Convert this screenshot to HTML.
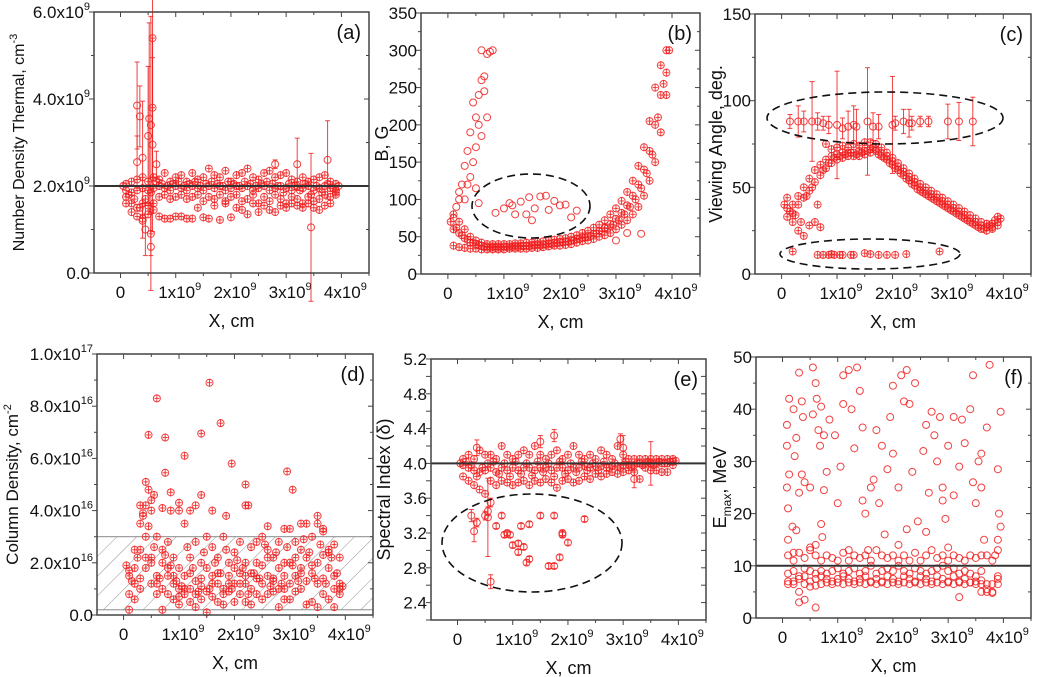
<!DOCTYPE html>
<html><head><meta charset="utf-8"><style>
html,body{margin:0;padding:0;background:#fff}
svg{display:block;font-family:"Liberation Sans",Arial,sans-serif}
</style></head><body>
<svg id="fig" width="1038" height="677" viewBox="0 0 1038 677" xmlns="http://www.w3.org/2000/svg">
<defs>
<pattern id="hatch" patternUnits="userSpaceOnUse" width="14" height="14" patternTransform="rotate(45)">
<line x1="0" y1="0" x2="0" y2="14" stroke="#777" stroke-width="0.8"/>
</pattern>
</defs>
</svg>
<script>
const xs=[0.1,0.2,0.3,0.4,0.5,0.6,0.7,0.8,0.9,1.0,1.1,1.2,1.3,1.4,1.5,1.6,1.7,1.8,1.9,2.0,2.1,2.2,2.3,2.4,2.5,2.6,2.7,2.8,2.9,3.0,3.1,3.2,3.3,3.4,3.5,3.6,3.7,3.8,3.9];
const xs2=[0.05,0.15,0.25,0.35,0.45,0.55,0.65,0.75,0.85,0.95,1.05,1.15,1.25,1.35,1.45,1.55,1.65,1.75,1.85,1.95,2.05,2.15,2.25,2.35,2.45,2.55,2.65,2.75,2.85,2.95,3.05,3.15,3.25,3.35,3.45,3.55,3.65,3.75,3.85,3.95];
// (a) number density, 1e9 cm^-3
const aS1=[2.05,2.1,2.15,2.2,2.1,2.2,2.15,2.3,2.1,2.2,2.25,2.1,2.3,2.15,2.2,2.4,2.25,2.2,2.35,2.1,2.25,2.3,2.4,2.2,2.15,2.3,2.35,2.2,2.25,2.3,2.15,2.1,2.2,2.1,2.15,2.2,2.25,2.1,2.05];
const aS2=[1.9,1.85,1.9,1.95,1.9,1.95,2.0,1.95,1.9,2.0,1.95,1.9,2.0,1.95,1.9,2.0,1.95,2.0,1.9,1.95,2.0,1.95,2.0,1.9,1.95,2.0,1.9,1.95,2.0,1.95,1.9,2.0,1.95,2.0,1.9,1.95,2.0,1.95,1.9];
const aS3=[1.75,1.6,1.5,1.6,1.55,1.6,1.75,1.8,1.7,1.75,1.8,1.7,1.75,1.8,1.65,1.75,1.7,1.8,1.65,1.75,1.8,1.65,1.7,1.8,1.6,1.75,1.65,1.8,1.7,1.6,1.75,1.7,1.6,1.75,1.65,1.7,1.8,1.75,1.85];
const aS4=[1.6,1.4,1.3,1.25,1.35,1.45,1.3,1.25,1.25,1.3,1.3,1.25,1.25,1.5,1.28,1.25,1.55,1.22,1.6,1.28,1.5,1.45,1.35,1.6,1.4,1.55,1.45,1.4,1.55,1.5,1.6,1.55,1.5,1.6,1.5,1.45,1.55,1.6,1.8];
const aS5=[2.0,1.8,1.7,1.5,1.7,1.85,2.1,2.05,2.0,2.05,2.1,2.0,2.05,2.1,2.0,2.05,2.1,2.05,2.0,2.1,2.05,2.0,2.1,2.05,2.0,2.05,2.1,2.05,2.0,1.85,2.05,2.0,1.9,2.05,1.8,2.0,1.85,2.05,1.95,2.0];
const aOx=[0.3,0.35,0.4,0.5,0.52,0.55,0.58,0.58,0.58,0.3,0.65,3.45,3.75,3.2,2.8,0.55,0.55,0.45,0.4];
const aOy=[3.85,3.6,2.65,3.15,3.55,3.4,5.4,3.8,2.95,2.55,2.5,1.05,2.6,2.5,2.5,0.6,0.9,1.0,1.2];
const aOe=[1.0,0.7,1.3,1.6,2.2,2.5,1.6,1.6,2.0,0.6,0.3,1.7,0.9,0.6,0.1,1.0,0.5,0.6,0.4];
// (b) B, G
const bS1=[38,36,35,34,34,33,33,33,33,33,34,34,34,34,35,35,36,37,38,38,39,40,42,44,45,47,50,52,55,60,66,72,80,90,105,125,150,190,240];
const bS2=[80,70,60,50,45,42,40,40,40,40,40,41,41,42,42,43,44,45,46,47,48,50,52,55,58,62,66,72,80,88,98,110,125,145,170,205,250,280,300];
const bS3=[60,55,48,42,40,38,37,37,37,37,37,38,38,38,39,40,40,41,42,43,44,45,47,49,51,54,58,62,67,74,82,92,105,120,140,165,200,240,270];
const bS4=[70,62,52,46,42,39,36,35,35,35,36,36,36,37,37,38,38,39,40,41,42,43,45,47,49,51,54,57,61,66,72,80,90,100,115,135,160,210,255,300];
const bOx=[0.2,0.25,0.3,0.35,0.4,0.45,0.5,0.5,0.55,0.6,0.65,0.6,0.7,0.75,0.8,0.4,0.35,0.5,0.55,0.3,0.7,0.65,0.85,1.0,1.15,1.2,1.3,1.45,1.5,1.55,1.65,1.75,1.8,1.9,2.0,2.1,2.3,1.1,1.4,2.2,3.0,3.2,3.45,2.8,0.1,0.15,0.2,0.45,0.55,0.6];
const bOy=[110,120,145,165,190,230,170,210,240,260,265,300,295,298,300,130,120,115,95,100,210,245,82,88,92,80,97,103,72,88,104,105,86,98,92,93,85,95,80,76,45,55,54,62,75,90,100,150,200,185];
// (c) viewing angle, deg
const cS1=[38,40,45,50,55,60,63,66,68,69,70,70,70,71,71,72,72,70,68,65,62,59,56,53,50,48,46,44,42,40,38,36,34,32,30,28,27,27,30];
const cS2=[33,35,40,44,48,53,57,61,64,66,67,68,68,68,69,70,71,68,66,63,60,57,54,51,48,46,44,42,40,38,36,34,32,30,28,26,25,26,28];
const cS3=[44,30,25,22,28,30,27,75,72,73,74,73,75,74,76,76,75,73,70,67,64,61,58,55,52,50,48,46,44,42,40,38,36,34,32,30,29,29,33];
const cS4=[40,36,34,30,45,50,40,60,64,67,68,69,70,69,70,71,73,69,67,64,61,58,55,52,49,47,45,43,41,39,37,35,33,31,29,27,26,28,31,32];
const cUx=[0.15,0.3,0.4,0.55,0.65,0.75,0.85,1.0,1.1,1.2,1.3,1.35,1.55,1.65,1.75,2.0,2.05,2.2,2.3,2.35,2.5,2.65,3.0,3.2,3.45];
const cUy=[88,88,88,88,88,87,86,86,84,85,86,85,88,85,85,86,87,88,87,87,88,88,88,88,88];
const cUe=[4,9,6,23,5,4,5,31,6,9,11,10,31,8,7,28,4,7,8,4,3,3,10,11,14];
const cLx=[0.2,0.65,0.75,0.85,0.9,0.95,1.05,1.1,1.25,1.3,1.5,1.6,1.75,1.9,2.05,2.25,2.85];
const cLy=[13,11,11,11,11.5,11,11,11,11,11,12,11.5,11,11,11,11.5,13];
// (d) column density, 1e16 cm^-2
const dS1=[1.7,2.5,3.5,4.2,4.0,3.0,2.5,2.8,2.2,1.8,3.5,2.2,2.8,2.0,3.0,2.6,2.2,3.0,2.0,2.4,2.8,2.0,2.6,2.8,3.0,2.5,2.2,2.8,2.0,3.3,2.8,2.5,3.5,3.0,3.5,3.2,2.5,2.7,2.2];
const dS2=[1.5,1.8,2.5,3.0,2.2,1.5,2.0,1.5,1.2,1.0,1.5,1.0,1.3,1.1,1.8,1.5,1.2,1.0,1.5,1.8,1.2,1.5,1.6,1.4,1.9,1.5,1.3,1.8,1.5,2.0,1.5,1.8,2.2,1.9,2.0,2.3,1.8,1.5,1.0];
const dS3=[0.8,1.2,1.4,1.8,1.2,0.8,1.0,0.8,0.6,0.7,1.0,0.5,0.8,0.6,0.9,0.7,0.5,0.8,0.9,1.2,0.8,0.5,1.0,0.8,1.2,0.8,0.9,1.0,0.6,1.2,0.9,1.0,1.3,0.5,1.2,0.8,0.6,1.0,1.2];
const dS4=[0.2,0.6,1.0,2.2,2.0,1.2,0.2,1.8,1.5,0.4,0.8,1.6,0.3,1.4,0.1,1.2,1.6,0.4,1.2,0.5,1.6,1.2,0.4,2.0,0.6,2.2,1.4,0.3,1.0,0.6,2.2,1.6,0.4,1.6,0.3,1.4,2.4,0.3,0.8];
const dS5=[1.9,1.3,2.2,3.8,3.4,2.6,1.4,2.3,1.9,1.3,1.1,2.6,1.8,0.9,2.4,1.0,2.0,1.6,2.5,1.0,2.1,1.8,0.8,1.6,1.4,2.7,1.1,2.4,1.2,2.6,1.9,1.3,2.9,2.4,1.4,2.7,1.2,2.2,1.6,1.1];
const dOx=[0.45,0.6,0.75,1.1,1.4,1.55,1.75,1.95,2.2,2.95,3.05,0.75,0.4,0.45,0.85,1.0,1.3,1.4,1.6,1.85,2.2,2.25,3.5,2.6,2.9,3.2,3.6,0.5,0.7,0.85,1.0,1.2,0.55,0.3,0.35];
const dOy=[6.9,8.3,6.8,6.1,6.95,8.9,7.35,5.8,5.0,5.5,4.8,5.45,5.1,4.8,4.7,4.3,4.2,4.6,4.0,3.8,4.2,4.2,3.8,3.4,3.3,3.5,3.3,4.4,4.1,4.0,4.0,4.0,4.6,4.2,3.9];
// (e) spectral index
const eS1=[4.05,4.1,4.05,4.15,4.1,4.1,4.05,4.2,4.1,4.05,4.1,4.15,4.1,4.2,4.1,4.05,4.1,4.15,4.05,4.1,4.2,4.1,4.05,4.1,4.05,4.15,4.1,4.05,4.2,4.1,4.05,4.05,4.05,4.05,4.05,4.05,4.05,4.05,4.05];
const eS2=[3.98,3.95,3.92,3.9,3.92,3.95,3.9,3.95,3.92,3.95,3.92,3.95,3.95,3.92,3.95,3.95,3.92,3.95,3.95,3.92,3.95,3.95,3.97,3.95,3.97,3.97,3.95,3.97,3.97,3.98,3.98,3.98,4.0,4.0,4.0,4.0,4.0,4.0,4.02];
const eS3=[3.85,3.8,3.75,3.7,3.65,3.8,3.75,3.8,3.78,3.75,3.78,3.8,3.75,3.8,3.78,3.82,3.78,3.72,3.8,3.82,3.78,3.8,3.85,3.82,3.88,3.85,3.88,3.9,3.88,3.9,3.92,3.9,3.82,3.95,3.92,3.92,3.9,3.9,3.98];
const eS4=[4.0,4.02,3.98,3.85,3.95,4.0,4.02,3.88,4.0,3.85,4.02,3.88,4.0,3.86,4.02,3.9,4.0,3.85,4.02,3.88,4.0,3.9,4.02,3.92,4.0,3.92,4.02,3.95,4.0,3.95,4.02,3.96,4.0,3.98,4.02,3.98,4.02,4.0,4.02,4.03];
const eOx=[0.25,0.3,0.35,0.5,0.55,0.6,0.7,0.6,0.8,0.85,0.9,0.95,1.0,1.1,1.1,1.15,1.2,1.25,1.3,1.3,1.5,1.65,1.75,1.75,1.85,1.9,1.9,2.0,2.3,0.55,1.75,1.5,2.95,3.0,0.35,3.5,3.2];
const eOy=[3.4,3.22,3.32,3.4,3.45,3.55,3.28,2.64,3.4,3.18,3.2,3.18,3.06,3.08,2.98,3.28,3.04,2.86,2.9,3.3,3.4,2.82,2.82,3.4,2.92,3.2,3.18,3.09,3.36,3.38,4.32,4.25,4.28,4.18,4.18,4.0,3.82];
const eOe=[0.07,0.12,0.05,0.05,0.05,0.05,0.03,0.08,0.03,0.03,0.03,0.03,0.03,0.03,0.03,0.03,0.03,0.03,0.03,0.03,0.03,0.03,0.03,0.03,0.03,0.03,0.03,0.03,0.03,0.45,0.07,0.07,0.06,0.14,0.09,0.25,0.1];
// (f) Emax, MeV
const fS1=[6.5,7,7.5,8,7,7.5,8,7.5,7,7.5,8,7.5,7,7.5,8,7,7.5,7,8,7.5,7,8,7.5,7,8,7.5,7,8,7.5,7,8,7,7.5,6.8,7,7.2,5,4.8,7.5];
const fS2=[8.5,9,8,9.5,9,8.5,9,8.5,9,9.5,8.5,9,9.5,8.5,9,10,8.5,9,9.5,9,10,9,8.5,9.5,9,8.5,9,9.5,10,9,9.5,8.5,9,8.5,8,9,5.5,5,8];
const fS3=[7,6.5,5,6.5,6,6.2,6.5,6.8,6.5,6.8,6.5,6.8,6.5,6.8,6.5,6.8,6.5,6.8,6.5,6.8,6.5,6.8,6.5,6.8,6.5,6.8,6.5,6.8,6.5,6.8,6.5,6.8,6.5,6.8,6.5,6.5,6.5,6.5,6.5];
const fS4=[12,11,12.5,11.5,13,12,11,12,11.5,11,12.5,11,12,11.5,12,11,13,12,11.5,12,11,12,11,12.5,11,12,13,11.5,12,11,12,11.5,11,12,11.5,12,12,11,13];
const fOx=[0.08,0.08,0.12,0.2,0.25,0.3,0.35,0.37,0.22,0.08,0.1,0.12,0.18,0.1,0.25,0.3,0.35,0.4,0.5,0.55,0.6,0.62,0.55,0.7,0.65,0.68,0.75,0.75,0.8,0.85,0.7,0.72,0.6,0.95,1.0,1.05,1.1,1.1,1.2,1.25,1.3,1.35,1.4,1.45,1.5,1.45,1.6,1.65,1.7,1.75,1.8,1.85,1.95,2.0,2.0,2.1,2.15,2.2,2.25,2.3,2.35,2.4,2.25,2.45,2.55,2.6,2.65,2.7,2.75,2.8,2.85,2.9,2.95,3.0,3.1,3.1,3.2,3.25,3.3,3.4,3.45,3.45,3.5,3.55,3.6,3.6,3.65,3.7,3.75,3.85,3.9,3.95,3.92,3.95,3.9,2.6,2.1,1.2,1.55,0.3,0.4,0.6,3.2,3.6,0.5,3.0,0.2,2.9,1.9];
const fOy=[37,33,42,40,34.5,47,41.5,38.5,31,25,21,27.5,17.5,15,16.8,24,27.5,26,25,48,45,42,39,40.5,36,33,35,24.5,28,38,18,15.5,14,35,22,29,41,46.5,47.5,40,32.5,48,43.5,22.5,20,36.5,25,26.5,36,22,33,16,38.5,44.5,31.5,25,46.5,41.5,47.5,41,28,45,17,18.5,32,37,24,39.5,35,30,38.5,22.5,19,33,38.5,23.5,29,38,33.5,40,26,46.5,22,30,31.5,25,15,36.5,48.5,12,28.5,39.5,20,17.5,15,16.5,14,13,13,3,3.5,2,4,5,13.5,13.5,12.5,25,28.5];

const xTicks=[0,1,2,3,4];
const NS='http://www.w3.org/2000/svg';
const svg=document.getElementById('fig');
function mk(tag,attrs,parent){const e=document.createElementNS(NS,tag);for(const k in attrs)e.setAttribute(k,attrs[k]);(parent||svg).appendChild(e);return e;}

function panel(cfg){
  const g=mk('g',{});
  
  
  const X=v=>cfg.L+(v-(-0.48))/(4.5+0.48)*(cfg.R-cfg.L);
  const Y=v=>cfg.B-(v-cfg.ymin)/(cfg.ymax-cfg.ymin)*(cfg.B-cfg.T);
  cfg.X=X;cfg.Y=Y;cfg.g=g;
  if(cfg.pre)cfg.pre(cfg);
  const tg=mk('g',{stroke:'#444','stroke-width':1},g);
  
  
  for(let v=-0.5;v<=4.5;v+=0.5){if(v<-0.48)continue;const px=X(v);const major=Math.abs(v-Math.round(v))<1e-6;const l=major?5:3;
    mk('line',{x1:px,x2:px,y1:cfg.B,y2:cfg.B+l},tg);mk('line',{x1:px,x2:px,y1:cfg.T,y2:cfg.T+l},tg);}
  for(let v=cfg.ymin;v<=cfg.ymax+1e-9;v+=cfg.minor){const py=Y(v);const major=Math.abs((v-cfg.ymin)/cfg.major-Math.round((v-cfg.ymin)/cfg.major))<1e-6;const l=major?5:3;
    mk('line',{x1:cfg.L-l,x2:cfg.L,y1:py,y2:py},tg);mk('line',{x1:cfg.R-l,x2:cfg.R,y1:py,y2:py},tg);}
  xTicks.forEach(v=>{
    const t=mk('text',{x:X(v)+(v?4:0),y:cfg.B+25,'font-size':17,'text-anchor':'middle',fill:'#111'},g);
    
    
    if(v===0){t.textContent='0';}else{t.textContent=v+'x10';const s=mk('tspan',{dy:-8,'font-size':11},t);s.textContent='9';}
  });
  cfg.yLabels.forEach((lab,i)=>{
    const v=cfg.yLabelVals[i];
    const t=mk('text',{x:cfg.L-4,y:Y(v)+6,'font-size':17,'text-anchor':'end',fill:'#111'},g);
    
    
    if(Array.isArray(lab)){t.textContent=lab[0];const s=mk('tspan',{dy:-8,'font-size':11},t);s.textContent=lab[1];const s2=mk('tspan',{dy:8,'font-size':1},t);s2.textContent=' ';}
    else t.textContent=lab;
  });
  const xt=mk('text',{x:(cfg.L+cfg.R)/2,y:cfg.B+54,'font-size':18,'text-anchor':'middle',fill:'#111'},g);
  
  
  xt.textContent='X, cm';
  const yt=mk('text',{transform:`translate(${cfg.ytx},${(cfg.T+cfg.B)/2}) rotate(-90)`,'font-size':cfg.ytfs||16,'text-anchor':'middle',fill:'#111'},g);
  
  
  cfg.ytitle(yt);
  const pl=mk('text',{x:cfg.R-8,y:cfg.T+27,'font-size':20,'text-anchor':'end',fill:'#111'},g);
  
  
  pl.textContent=cfg.label;
  return cfg;
}
function pts(cfg,xa,ya,ea,name,cross){
  const g=mk('g',{fill:'none',stroke:'#f02020','stroke-width':1,'stroke-opacity':0.85},cfg.g);
  
  
  for(let i=0;i<ya.length;i++){
    const px=cfg.X(xa[i]),py=cfg.Y(ya[i]);
    if(ea&&ea[i]){const y1=cfg.Y(ya[i]-ea[i]),y2=cfg.Y(ya[i]+ea[i]);
      mk('line',{x1:px,x2:px,y1:y1,y2:y2},g);mk('line',{x1:px-2.5,x2:px+2.5,y1:y1,y2:y1},g);mk('line',{x1:px-2.5,x2:px+2.5,y1:y2,y2:y2},g);}
    if(cross){mk('line',{x1:px-2.5,x2:px+2.5,y1:py,y2:py},g);mk('line',{x1:px,x2:px,y1:py-4,y2:py+4},g);}
    mk('circle',{cx:px,cy:py,r:3.5},g);
  }
}
function hline(cfg,v){const l=mk('line',{x1:cfg.L,x2:cfg.R,y1:cfg.Y(v),y2:cfg.Y(v),stroke:'#333','stroke-width':2},cfg.g);
  
  }
function ell(cfg,cx,cy,rx,ry){const e=mk('ellipse',{cx,cy,rx,ry,fill:'none',stroke:'#111','stroke-width':1.6,'stroke-dasharray':'8 5'},cfg.g);
  
  }
function frame(cfg){const r=mk('rect',{x:cfg.L,y:cfg.T,width:cfg.R-cfg.L,height:cfg.B-cfg.T,fill:'none',stroke:'#444','stroke-width':1.5},cfg.g);
  
  }
function sup(t,a,b,c){t.textContent=a;const s=mk('tspan',{dy:-7,'font-size':11},t);s.textContent=b;if(c){const s2=mk('tspan',{dy:7},t);s2.textContent=c;}}

let A=panel({name:'panel-a',L:94,R:369,T:12,B:273,ymin:0,ymax:6,major:2,minor:1,
 yLabelVals:[0,2,4,6],yLabels:['0.0',['2.0x10','9'],['4.0x10','9'],['6.0x10','9']],ytx:24,label:'(a)',ytfs:16,
 ytitle:t=>sup(t,'Number Density Thermal, cm','-3')});
[aS1,aS2,aS3,aS4].forEach((s,i)=>pts(A,xs,s,null,'series-a-band-'+(i+1),true));
pts(A,xs2,aS5,null,'series-a-band-5',true);
pts(A,aOx,aOy,aOe,'series-a-outliers');
hline(A,2.0);frame(A);

let B=panel({name:'panel-b',L:421,R:700,T:13,B:274,ymin:0,ymax:350,major:50,minor:25,
 yLabelVals:[0,50,100,150,200,250,300,350],yLabels:['0','50','100','150','200','250','300','350'],ytx:388,label:'(b)',ytfs:18,
 ytitle:t=>{t.textContent='B, G';}});
[bS1,bS2,bS3].forEach((s,i)=>pts(B,xs,s,null,'series-b-band-'+(i+1),true));
pts(B,xs2,bS4,null,'series-b-band-4',true);
pts(B,bOx,bOy,null,'series-b-outliers');
ell(B,531,206,59,32);frame(B);

let C=panel({name:'panel-c',L:755,R:1031,T:14,B:274,ymin:0,ymax:150,major:50,minor:25,
 yLabelVals:[0,50,100,150],yLabels:['0','50','100','150'],ytx:722,label:'(c)',ytfs:18,
 ytitle:t=>{t.textContent='Viewing Angle, deg.';}});
[cS1,cS2,cS3].forEach((s,i)=>pts(C,xs,s,null,'series-c-band-'+(i+1),true));
pts(C,xs2,cS4,null,'series-c-band-4',true);
pts(C,cUx,cUy,cUe,'series-c-upper-group');
pts(C,cLx,cLy,null,'series-c-lower-group',true);
ell(C,885,118,118,26);ell(C,870,254,90,15);frame(C);

let D=panel({name:'panel-d',L:97,R:373,T:354,B:615,ymin:0,ymax:10,major:2,minor:1,
 yLabelVals:[0,2,4,6,8,10],yLabels:['0.0',['2.0x10','16'],['4.0x10','16'],['6.0x10','16'],['8.0x10','16'],['1.0x10','17']],ytx:18,label:'(d)',ytfs:17,
 ytitle:t=>sup(t,'Column Density, cm','-2'),
 pre:cfg=>{const r=mk('rect',{x:cfg.L,y:cfg.Y(3.0),width:cfg.R-cfg.L,height:cfg.Y(0.2)-cfg.Y(3.0),fill:'url(#hatch)',stroke:'#888','stroke-width':1},cfg.g);
   
   }});
[dS1,dS2,dS3,dS4].forEach((s,i)=>pts(D,xs,s,null,'series-d-group-'+(i+1),true));
pts(D,xs2,dS5,null,'series-d-group-5',true);
pts(D,dOx,dOy,null,'series-d-outliers',true);
frame(D);

let E=panel({name:'panel-e',L:431,R:706,T:359,B:620,ymin:2.2,ymax:5.2,major:0.2,minor:0.2,
 yLabelVals:[2.4,2.8,3.2,3.6,4.0,4.4,4.8,5.2],yLabels:['2.4','2.8','3.2','3.6','4.0','4.4','4.8','5.2'],ytx:390,label:'(e)',ytfs:18,
 ytitle:t=>{t.textContent='Spectral Index (δ)';}});
[eS1,eS2,eS3].forEach((s,i)=>pts(E,xs,s,null,'series-e-band-'+(i+1),true));
pts(E,xs2,eS4,null,'series-e-band-4',true);
pts(E,eOx,eOy,eOe,'series-e-outliers');
hline(E,4.0);ell(E,532,543,90,49);frame(E);

let F=panel({name:'panel-f',L:756,R:1031,T:357,B:618,ymin:0,ymax:50,major:10,minor:5,
 yLabelVals:[0,10,20,30,40,50],yLabels:['0','10','20','30','40','50'],ytx:726,label:'(f)',ytfs:18,
 ytitle:t=>{t.textContent='E';const s=mk('tspan',{dy:5,'font-size':12},t);s.textContent='max';const s2=mk('tspan',{dy:-5},t);s2.textContent=', MeV';}});
[fS1,fS2,fS3,fS4].forEach((s,i)=>pts(F,xs,s,null,'series-f-band-'+(i+1)));
pts(F,fOx,fOy,null,'series-f-scatter');
hline(F,10);frame(F);
</script>
</body></html>
